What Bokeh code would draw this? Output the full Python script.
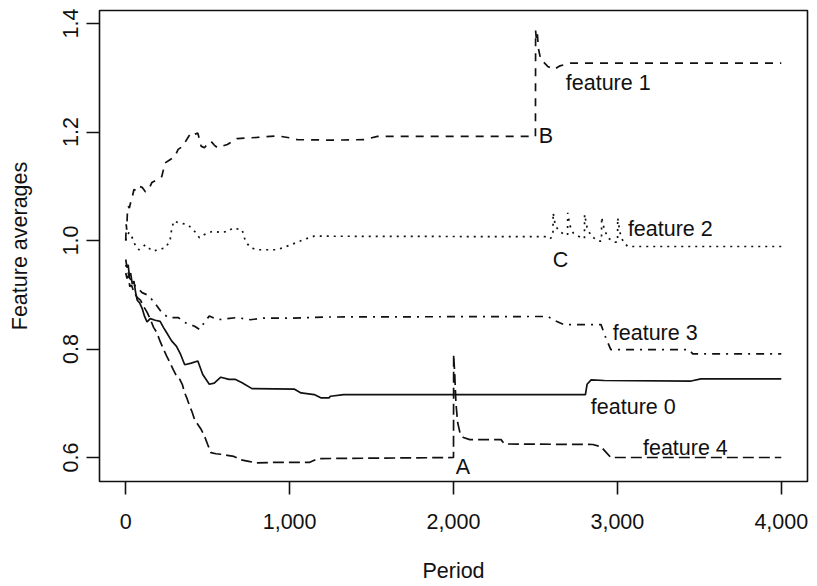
from bokeh.plotting import figure
from bokeh.models import Range1d, FixedTicker
from bokeh.core.properties import value
from bokeh.embed import file_html
from bokeh.resources import INLINE

# ---- data: running feature averages by period ----
f0_period = [0, 8, 15, 22, 30, 40, 50, 60, 70, 85, 100, 115, 130, 150, 180, 210, 230, 250, 280,
             310, 335, 360, 400, 440, 470, 510, 540, 580, 630, 670, 710, 770, 1030, 1070, 1150,
             1190, 1240, 1250, 1330, 2805, 2815, 2840, 2920, 3450, 3510, 4000]
f0_value = [0.965, 0.95, 0.955, 0.935, 0.94, 0.92, 0.925, 0.905, 0.89, 0.885, 0.875, 0.86, 0.85,
            0.856, 0.853, 0.851, 0.84, 0.83, 0.815, 0.805, 0.79, 0.771, 0.774, 0.778, 0.753, 0.735,
            0.737, 0.748, 0.744, 0.744, 0.738, 0.727, 0.726, 0.719, 0.716, 0.710, 0.710, 0.713,
            0.716, 0.716, 0.735, 0.743, 0.742, 0.741, 0.745, 0.745]

f1_period = [0, 3, 6, 10, 15, 22, 30, 40, 50, 65, 80, 100, 120, 140, 160, 190, 220, 240, 270,
             300, 320, 340, 360, 380, 400, 420, 440, 460, 480, 500, 520, 540, 560, 590, 620, 680,
             800, 925, 1006, 1047, 1250, 1454, 1536, 2500, 2501, 2506, 2512, 2518, 2532, 2575,
             2612, 2650, 2715, 4000]
f1_value = [1.0, 1.03, 1.02, 1.05, 1.063, 1.06, 1.07, 1.08, 1.094, 1.092, 1.1, 1.098, 1.09, 1.094,
            1.107, 1.112, 1.118, 1.143, 1.149, 1.155, 1.168, 1.172, 1.18, 1.19, 1.199, 1.196,
            1.198, 1.174, 1.171, 1.178, 1.183, 1.176, 1.171, 1.174, 1.177, 1.188, 1.19, 1.193,
            1.189, 1.186, 1.185, 1.186, 1.192, 1.192, 1.387, 1.37, 1.38, 1.354, 1.334, 1.321,
            1.315, 1.322, 1.327, 1.327]

f2_period = [0, 10, 20, 40, 60, 80, 100, 120, 145, 170, 200, 240, 270, 280, 293, 320, 350, 380,
             420, 450, 480, 530, 580, 630, 650, 710, 730, 760, 800, 925, 1006, 1088, 1149, 2560,
             2590, 2607, 2608, 2620, 2640, 2680, 2696, 2697, 2710, 2730, 2780, 2799, 2800, 2815,
             2840, 2885, 2903, 2904, 2920, 2945, 2985, 3001, 3002, 3015, 3035, 3063, 4000]
f2_value = [1.0, 1.01, 1.015, 1.005, 0.99, 0.983, 0.988, 0.992, 0.985, 0.98, 0.984, 0.986, 0.999,
            1.02, 1.036, 1.033, 1.031, 1.029, 1.017, 1.005, 1.011, 1.017, 1.015, 1.017, 1.023,
            1.02, 0.999, 0.987, 0.983, 0.983, 0.992, 1.002, 1.008, 1.007, 1.003, 1.01, 1.051,
            1.03, 1.018, 1.011, 1.01, 1.051, 1.028, 1.014, 1.005, 1.004, 1.048, 1.024, 1.008,
            0.999, 0.999, 1.043, 1.02, 1.004, 0.997, 0.997, 1.042, 1.015, 0.998, 0.989, 0.989]

f3_period = [0, 10, 25, 40, 60, 80, 100, 130, 170, 220, 260, 320, 360, 420, 450, 480, 510, 560,
             680, 760, 840, 1020, 1230, 2575, 2620, 2675, 2900, 2930, 2960, 3436, 3460, 4000]
f3_value = [0.955, 0.945, 0.93, 0.925, 0.915, 0.91, 0.904, 0.9, 0.888, 0.867, 0.858, 0.858, 0.849,
            0.842, 0.836, 0.849, 0.861, 0.854, 0.858, 0.854, 0.857, 0.857, 0.859, 0.860, 0.852,
            0.845, 0.845, 0.82, 0.799, 0.799, 0.791, 0.791]

f4_period = [0, 8, 15, 25, 35, 50, 70, 90, 110, 130, 150, 170, 190, 210, 230, 250, 270, 290, 310,
             330, 345, 360, 375, 390, 405, 420, 440, 460, 480, 500, 520, 550, 580, 620, 660, 700,
             750, 800, 900, 1000, 1120, 1150, 1180, 2000, 2001, 2008, 2015, 2025, 2040, 2060, 2100,
             2290, 2310, 2850, 2900, 2930, 2960, 4000]
f4_value = [0.94, 0.93, 0.935, 0.915, 0.918, 0.905, 0.895, 0.89, 0.878, 0.868, 0.855, 0.84, 0.83,
            0.814, 0.80, 0.787, 0.775, 0.762, 0.75, 0.744, 0.735, 0.719, 0.708, 0.695, 0.684,
            0.670, 0.661, 0.652, 0.64, 0.624, 0.609, 0.607, 0.606, 0.604, 0.602, 0.596, 0.593,
            0.590, 0.591, 0.591, 0.591, 0.595, 0.598, 0.600, 0.79, 0.75, 0.70, 0.665, 0.645,
            0.637, 0.633, 0.633, 0.625, 0.624, 0.620, 0.610, 0.600, 0.600]

x_ticks = [0, 1000, 2000, 3000, 4000]
x_tick_labels = ["0", "1,000", "2,000", "3,000", "4,000"]
y_ticks = [0.6, 0.8, 1.0, 1.2, 1.4]
y_tick_labels = ["0.6", "0.8", "1.0", "1.2", "1.4"]

# in-plot annotations: text, anchor period, anchor value
note_text = ["feature 0", "feature 1", "feature 2", "feature 3", "feature 4", "A", "B", "C"]
note_period = [2838, 2685, 3064, 2972, 3156, 2013, 2520, 2606]
note_value = [0.694, 1.291, 1.022, 0.830, 0.618, 0.582, 1.192, 0.965]

FONT = "Liberation Sans"
FS = "21.5px"
INK = "#111111"

p = figure(
    width=817, height=586,
    output_backend="svg", toolbar_location=None,
    x_range=Range1d(-160, 4160), y_range=Range1d(0.5558, 1.4240),
    min_border_left=99, min_border_right=10, min_border_top=10, min_border_bottom=105,
    background_fill_color="white", border_fill_color="white",
)
p.grid.visible = False
p.outline_line_color = INK
p.outline_line_width = 1.6

series = [
    (f0_period, f0_value, "solid"),
    (f1_period, f1_value, "8 7"),
    (f2_period, f2_value, "2 5"),
    (f3_period, f3_value, "2 6 8 6"),
    (f4_period, f4_value, "11 5"),
]
for xs, ys, dash in series:
    p.line(xs, ys, line_color=INK, line_width=1.7, line_dash=dash)

p.text(note_period, note_value, text=note_text, text_align="left", text_baseline="middle",
       text_font=value(FONT), text_font_size=FS, text_color=INK)

for ax in (p.xaxis[0], p.yaxis[0]):
    ax.axis_line_color = None
    ax.major_tick_in = 0
    ax.major_tick_out = 13
    ax.major_tick_line_color = INK
    ax.major_tick_line_width = 1.6
    ax.minor_tick_line_color = None
    ax.major_label_text_font = FONT
    ax.major_label_text_font_size = FS
    ax.major_label_text_color = INK
    ax.axis_label_text_font = FONT
    ax.axis_label_text_font_size = FS
    ax.axis_label_text_font_style = "normal"
    ax.axis_label_text_color = INK

p.xaxis.ticker = FixedTicker(ticks=x_ticks)
p.xaxis.major_label_overrides = dict(zip(x_ticks, x_tick_labels))
p.xaxis.axis_label = "Period"
p.xaxis.major_label_standoff = 19
p.xaxis.axis_label_standoff = 27

p.yaxis.ticker = FixedTicker(ticks=y_ticks)
p.yaxis.major_label_overrides = dict(zip(y_ticks, y_tick_labels))
p.yaxis.major_label_orientation = "parallel"
p.yaxis.axis_label = "Feature averages"
p.yaxis.major_label_standoff = 8
p.yaxis.axis_label_standoff = 29

open("out.html", "w").write(file_html(p, INLINE))
